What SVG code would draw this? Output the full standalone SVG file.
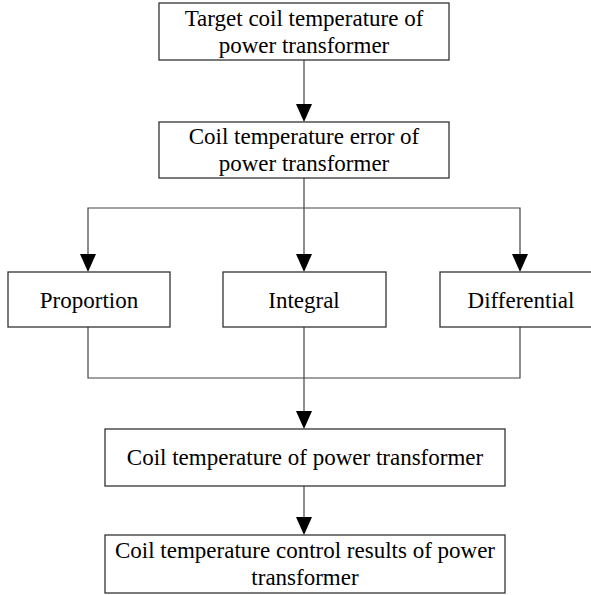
<svg xmlns="http://www.w3.org/2000/svg" width="591" height="595" viewBox="0 0 591 595">
<style>
.box{fill:#fff;stroke:#333;stroke-width:1.3}
.t{font-family:"Liberation Serif","Times New Roman",serif;font-size:23px;fill:#000;text-anchor:middle}
.c{fill:none;stroke:#444;stroke-width:1.2}
.ah{fill:#000}
</style>
<rect width="591" height="595" fill="#fff"/>
<g id="connectors">
<path class="c" d="M304,60 V104"/>
<path class="ah" d="M296,104 L312,104 L304,122 Z"/>
<path class="c" d="M304,178 V254"/>
<path class="ah" d="M296,254 L312,254 L304,272 Z"/>
<path class="c" d="M88,254 V208 H520 V254"/>
<path class="ah" d="M80,254 L96,254 L88,272 Z"/>
<path class="ah" d="M512,254 L528,254 L520,272 Z"/>
<path class="c" d="M88,327 V378 H520 V327"/>
<path class="c" d="M304,327 V411"/>
<path class="ah" d="M296,411 L312,411 L304,429 Z"/>
<path class="c" d="M304,486 V517"/>
<path class="ah" d="M296,517 L312,517 L304,535 Z"/>
</g>
<g id="n1">
<rect class="box" x="159" y="3" width="290" height="57"/>
<text class="t" x="304" y="26">Target coil temperature of</text>
<text class="t" x="304" y="53">power transformer</text>
</g>
<g id="n2">
<rect class="box" x="159" y="122" width="290" height="56"/>
<text class="t" x="304" y="144">Coil temperature error of</text>
<text class="t" x="304" y="171">power transformer</text>
</g>
<g id="n3">
<rect class="box" x="8" y="272" width="162" height="55"/>
<text class="t" x="89" y="308">Proportion</text>
</g>
<g id="n4">
<rect class="box" x="223" y="272" width="163" height="55"/>
<text class="t" x="304" y="308">Integral</text>
</g>
<g id="n5">
<rect class="box" x="440" y="272" width="160" height="55"/>
<text class="t" x="521" y="308">Differential</text>
</g>
<g id="n6">
<rect class="box" x="105" y="429" width="400" height="57"/>
<text class="t" x="305" y="465">Coil temperature of power transformer</text>
</g>
<g id="n7">
<rect class="box" x="105" y="535" width="400" height="58"/>
<text class="t" x="305" y="558">Coil temperature control results of power</text>
<text class="t" x="305" y="585">transformer</text>
</g>
</svg>
